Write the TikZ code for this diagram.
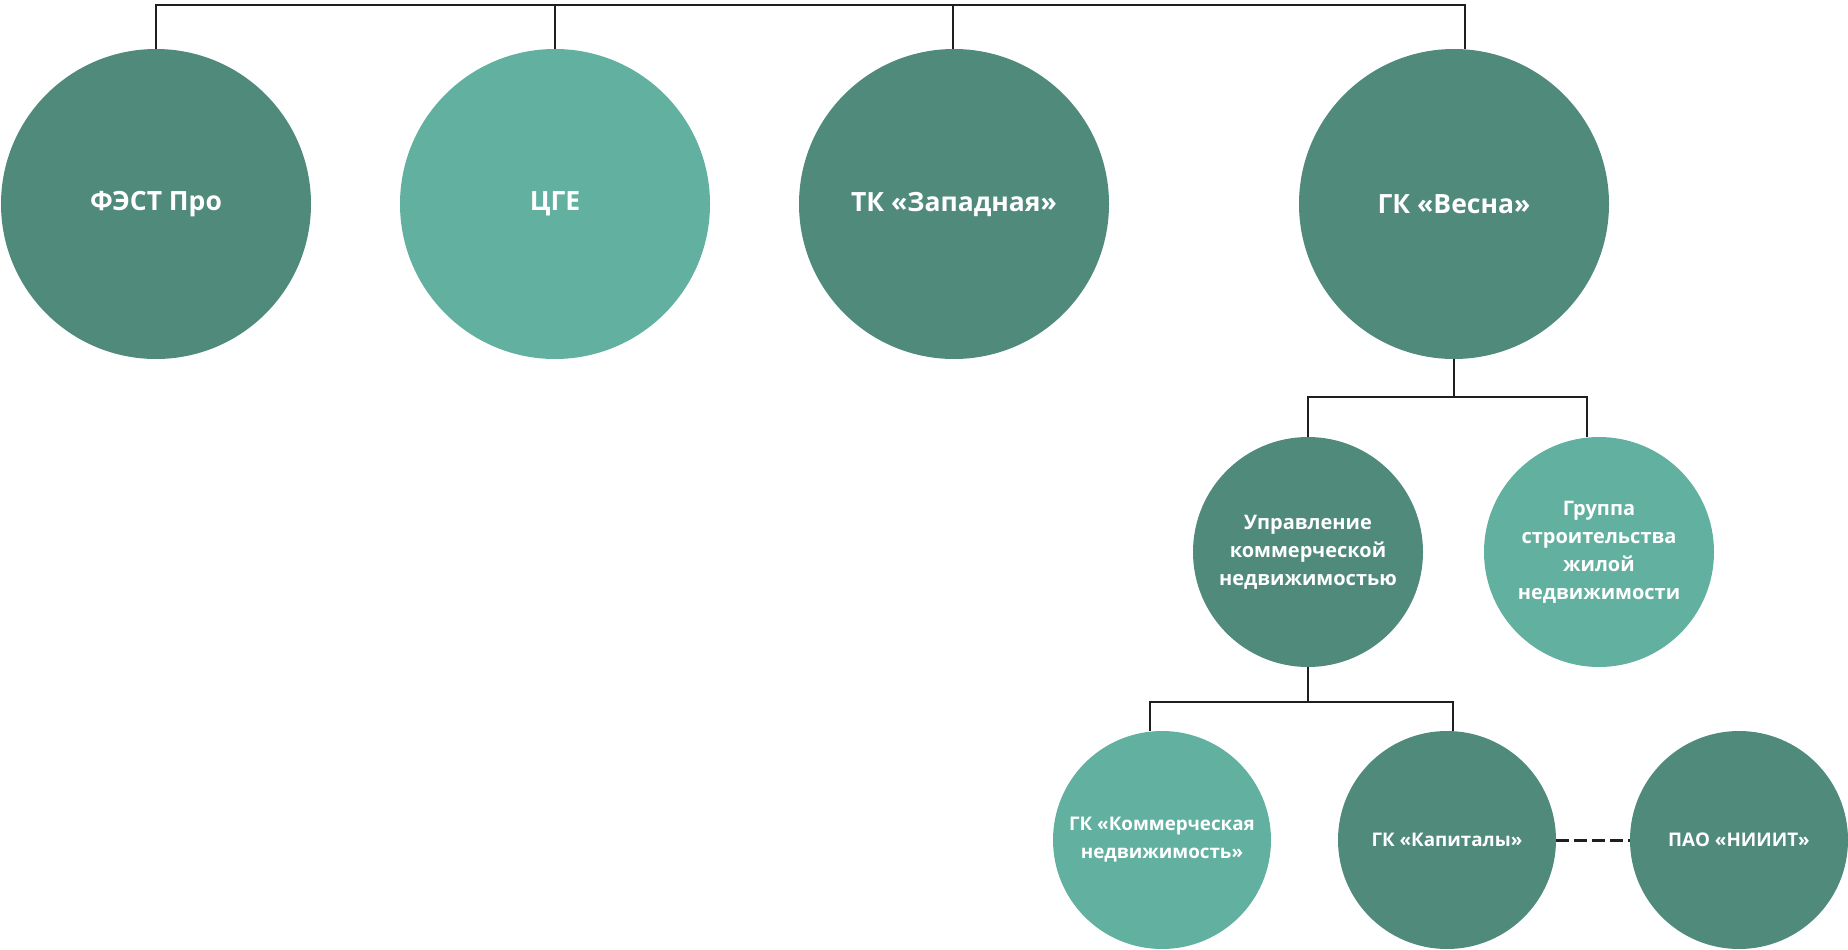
\documentclass[tikz,border=0pt]{standalone}
\usepackage{fontspec}
\setmainfont{Open Sans}
\usetikzlibrary{calc}

\definecolor{darkgreen}{HTML}{4F8A7B}
\definecolor{lightgreen}{HTML}{62B0A0}
\definecolor{linegray}{HTML}{1F1F1F}

\tikzset{
  org/.style={circle, inner sep=0pt, align=center, text=white, font=\bfseries},
  big/.style={org, minimum size=310pt, font=\bfseries\fontsize{26.5}{32}\selectfont},
  mid/.style={org, minimum size=230pt, font=\bfseries\fontsize{20}{28}\selectfont},
  small/.style={org, minimum size=218pt, font=\bfseries\fontsize{18.8}{28}\selectfont},
  link/.style={draw=linegray, line width=2.5pt}
}

\begin{document}
\begin{tikzpicture}[x=1pt, y=-1pt]
\useasboundingbox (0,0) rectangle (1848,950);

\node[big, fill=darkgreen]  (fest)   at (156,204)  {ФЭСТ Про};
\node[big, fill=lightgreen] (cge)    at (555,204)  {ЦГЕ};
\node[big, fill=darkgreen]  (zapad)  at (954,204)  {ТК «Западная»};
\node[big, fill=darkgreen]  (vesna)  at (1454,204) {ГК «Весна»};

\node[mid, fill=darkgreen]  (upr)    at (1308,552) {Управление\\коммерческой\\недвижимостью};
\node[mid, fill=lightgreen] (grp)    at (1599,552) {Группа\\строительства\\жилой\\недвижимости};

\node[small, fill=lightgreen] (kom)  at (1162,840) {ГК «Коммерческая\\недвижимость»};
\node[small, fill=darkgreen]  (kap)  at (1447,840) {ГК «Капиталы»};
\node[small, fill=darkgreen]  (niit) at (1739,840) {ПАО «НИИИТ»};

\coordinate (top) at (1465,5);
\coordinate (fork1) at (1454,397);
\coordinate (fork2) at (1308,702);

\draw[link] (fest.north) |- (top) -- ([xshift=11pt]vesna.north);
\draw[link] (cge.north) -- (cge.north |- top);
\draw[link] ([xshift=-1pt]zapad.north) -- ([xshift=-1pt]zapad.north |- top);

\draw[link] (vesna.south) -- (fork1);
\draw[link] (upr.north) |- (fork1) -| ([xshift=-12pt]grp.north);

\draw[link] (upr.south) -- (fork2);
\draw[link] ([xshift=-12pt]kom.north) |- (fork2) -| ([xshift=6pt]kap.north);

\draw[link, line width=3pt, dash pattern=on 13pt off 5pt] (kap.east) -- (niit.west);
\end{tikzpicture}
\end{document}
